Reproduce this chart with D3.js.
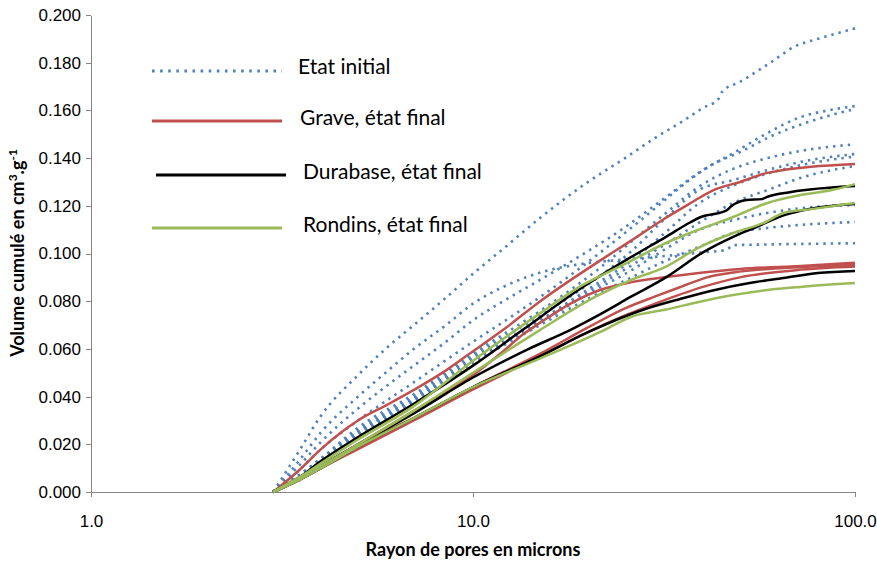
<!DOCTYPE html>
<html>
<head>
<meta charset="utf-8">
<script src="https://cdn.jsdelivr.net/npm/d3@7"></script>
<style>
  html, body { margin: 0; padding: 0; background: #fff; }
  svg { display: block; font-family: Lato, "Open Sans", sans-serif; }
  .axis path, .axis line { stroke: #868686; stroke-width: 1; shape-rendering: crispEdges; }
  .axis text { fill: #000; font-size: 17px; }
</style>
</head>
<body>
<svg id="chart" width="877" height="561"></svg>
<script>
// Cumulative pore volume (cm3/g) against pore radius (microns), one [radius, volume] list per sample.

// Etat initial
const etatInitial = [
  [[3,0],[3.5,0.017],[4,0.032],[5,0.049],[6,0.061],[7,0.070],[8.5,0.0815],[10,0.0915],[12,0.102],[15,0.115],[20,0.130],[25,0.140],[30,0.1485],[35,0.155],[40,0.161],[44,0.165],[45,0.168],[50,0.172],[60,0.180],[70,0.187],[80,0.190],[100,0.1944]],
  [[3,0],[3.5,0.013],[4,0.025],[5,0.040],[6,0.051],[7,0.060],[8.5,0.070],[10,0.079],[12,0.086],[15,0.092],[19,0.0955],[25,0.0975],[32,0.099],[40,0.1005],[46,0.1015],[48,0.1035],[60,0.1038],[100,0.1043]],
  [[3,0],[3.5,0.011],[4,0.021],[5,0.035],[6,0.045],[7,0.053],[8.5,0.063],[10,0.072],[12,0.080],[15,0.089],[20,0.101],[25,0.111],[31,0.122],[40,0.135],[48,0.1421],[59,0.1505],[72,0.1572],[85,0.160],[100,0.1618]],
  [[3,0],[3.5,0.009],[4,0.018],[5,0.030],[7,0.046],[10,0.063],[13,0.075],[17,0.088],[23,0.104],[30,0.119],[37,0.131],[42,0.137],[50,0.1425],[60,0.149],[75,0.155],[100,0.1606]],
  [[3,0],[3.5,0.007],[4,0.014],[5,0.027],[7,0.041],[10,0.058],[15,0.076],[21.5,0.094],[26,0.105],[32,0.117],[39,0.128],[48,0.1355],[59,0.140],[72,0.143],[100,0.1458]],
  [[3,0],[3.5,0.007],[4,0.014],[5,0.026],[7,0.040],[10,0.057],[15,0.074],[20,0.087],[26,0.101],[32,0.115],[39,0.1266],[48,0.1308],[59,0.135],[72,0.1384],[100,0.1417]],
  [[3,0],[3.5,0.006],[4,0.013],[5,0.025],[7,0.039],[10,0.055],[15,0.072],[20,0.085],[26,0.097],[32,0.109],[39,0.121],[48,0.1285],[59,0.1335],[72,0.137],[100,0.1407]],
  [[3,0],[3.5,0.006],[4,0.013],[5,0.025],[7,0.039],[10,0.056],[15,0.072],[20,0.084],[26,0.095],[32,0.104],[39,0.1128],[48,0.1212],[59,0.1266],[72,0.1317],[100,0.1367]],
  [[3,0],[3.5,0.006],[4,0.012],[5,0.024],[7,0.038],[10,0.055],[15,0.071],[20,0.083],[26,0.093],[32,0.102],[39,0.1099],[48,0.114],[59,0.117],[72,0.119],[100,0.1203]],
  [[3,0],[3.5,0.006],[4,0.012],[5,0.024],[7,0.038],[10,0.054],[15,0.070],[20,0.081],[26,0.090],[32,0.097],[39,0.1027],[48,0.1086],[59,0.1107],[72,0.112],[100,0.1132]]
];

// Grave, état final
const grave = [
  [[3,0],[3.5,0.009],[4,0.018],[5,0.030],[6,0.0368],[7,0.0428],[8.5,0.051],[10,0.059],[12,0.068],[15,0.080],[21.5,0.097],[26,0.1055],[32,0.115],[37,0.121],[42.5,0.1265],[50,0.130],[59,0.1338],[100,0.1375]],
  [[3,0],[3.5,0.006],[4,0.011],[5,0.020],[7,0.034],[10,0.049],[12,0.059],[13.5,0.066],[15,0.071],[18,0.079],[21.5,0.0847],[26,0.088],[32,0.0901],[39,0.0918],[50,0.0935],[72,0.0948],[100,0.0961]],
  [[3,0],[3.5,0.005],[4,0.010],[5,0.020],[7,0.031],[10,0.044],[15,0.058],[20,0.069],[25,0.077],[30,0.082],[35,0.086],[41,0.090],[48,0.092],[72,0.0943],[100,0.0952]],
  [[3,0],[3.5,0.005],[4,0.010],[5,0.018],[7,0.030],[10,0.043],[15,0.057],[20,0.067],[25,0.074],[30,0.079],[40,0.086],[50,0.090],[70,0.093],[100,0.0945]]
];

// Durabase, état final
const durabase = [
  [[3,0],[3.5,0.006],[4,0.013],[5,0.023],[7,0.037],[10,0.053],[13.5,0.068],[19,0.085],[25,0.097],[32,0.107],[37,0.113],[39.5,0.1153],[46,0.118],[47.5,0.1199],[52,0.1224],[57,0.1228],[59,0.1238],[68,0.1258],[100,0.1283]],
  [[3,0],[3.5,0.006],[4,0.011],[5,0.020],[7,0.033],[10,0.048],[14,0.060],[18,0.068],[21.5,0.0745],[26,0.082],[32,0.090],[40,0.1005],[48,0.107],[55,0.111],[65,0.116],[76,0.1187],[100,0.1208]],
  [[3,0],[3.5,0.005],[4,0.010],[5,0.019],[7,0.031],[10,0.044],[15,0.057],[20,0.067],[28,0.0765],[35,0.081],[43,0.0847],[53,0.0876],[65,0.0897],[80,0.0918],[100,0.0927]]
];

// Rondins, état final
const rondins = [
  [[3,0],[3.5,0.006],[4,0.012],[5,0.022],[7,0.036],[10,0.055],[12.7,0.067],[15,0.075],[19,0.086],[21.5,0.0905],[26,0.097],[32,0.1044],[39,0.110],[48,0.1153],[59,0.1212],[72,0.1245],[87,0.1266],[100,0.1291]],
  [[3,0],[3.5,0.006],[4,0.011],[5,0.020],[7,0.034],[10,0.050],[15,0.068],[21,0.082],[26,0.089],[32,0.0945],[39,0.1025],[48,0.1086],[58,0.113],[65,0.117],[76,0.1185],[100,0.1212]],
  [[3,0],[3.5,0.005],[4,0.010],[5,0.019],[7,0.031],[10,0.044],[15,0.056],[21.5,0.067],[26,0.0735],[32,0.0765],[39,0.0797],[48,0.0826],[59,0.0847],[72,0.086],[100,0.0876]]
];

const seriesNames = ["Etat initial", "Grave, état final", "Durabase, état final", "Rondins, état final"];
const seriesColors = ["#4F81BD", "#C0504D", "#000000", "#9BBB59"];
const xTicks = [1, 10, 100];
const yTicks = [0, 0.02, 0.04, 0.06, 0.08, 0.10, 0.12, 0.14, 0.16, 0.18, 0.20];

const groups = [etatInitial, grave, durabase, rondins];

const svg = d3.select("#chart");

const x = d3.scaleLog().domain([1, 100]).range([91, 855]);
const y = d3.scaleLinear().domain([0, 0.2]).range([492, 15]);

// Axes
svg.append("g")
  .attr("class", "axis")
  .attr("transform", "translate(91,0)")
  .call(d3.axisLeft(y).tickValues(yTicks).tickFormat(d3.format(".3f")).tickSize(5).tickSizeOuter(0).tickPadding(5));

const xAxis = svg.append("g")
  .attr("class", "axis")
  .attr("transform", "translate(0,492)")
  .call(d3.axisBottom(x).tickValues(xTicks).tickFormat(d3.format(".1f")).tickSize(5).tickSizeOuter(0));
xAxis.selectAll("text").attr("y", 29).attr("dy", "0.35em");

// Curves
const line = d3.line()
  .x(d => x(d[0]))
  .y(d => y(d[1]))
  .curve(d3.curveMonotoneX);

const plot = svg.append("g");
groups.forEach((curves, gi) => {
  plot.append("g")
    .selectAll("path")
    .data(curves)
    .join("path")
    .attr("d", line)
    .attr("fill", "none")
    .attr("stroke", seriesColors[gi])
    .attr("stroke-width", gi === 0 ? 2.6 : 2.5)
    .attr("stroke-dasharray", gi === 0 ? "2.4 5" : null)
    .attr("stroke-linejoin", "round");
});

// Legend
const legendRows = [
  { x1: 152, x2: 282, ly: 71, tx: 298, ty: 67 },
  { x1: 152, x2: 282, ly: 121, tx: 300, ty: 118 },
  { x1: 156, x2: 286, ly: 175, tx: 303, ty: 172 },
  { x1: 152, x2: 282, ly: 228, tx: 303, ty: 225 }
];
const legend = svg.append("g");
legendRows.forEach((r, i) => {
  legend.append("line")
    .attr("x1", r.x1).attr("x2", r.x2)
    .attr("y1", r.ly).attr("y2", r.ly)
    .attr("stroke", seriesColors[i])
    .attr("stroke-width", i === 0 ? 2.8 : 3.2)
    .attr("stroke-dasharray", i === 0 ? "2.6 5.5" : null);
  legend.append("text")
    .attr("x", r.tx).attr("y", r.ty)
    .attr("dy", "0.35em")
    .attr("font-size", 21)
    .attr("fill", "#000")
    .text(seriesNames[i]);
});

// Axis titles
svg.append("text")
  .attr("x", 473).attr("y", 550)
  .attr("dy", "0.35em")
  .attr("text-anchor", "middle")
  .attr("font-weight", "bold")
  .attr("font-size", 18)
  .text("Rayon de pores en microns");

const yTitle = svg.append("text")
  .attr("transform", "translate(18,253) rotate(-90)")
  .attr("dy", "0.35em")
  .attr("text-anchor", "middle")
  .attr("font-weight", "bold")
  .attr("font-size", 18);
yTitle.append("tspan").text("Volume cumulé en cm");
yTitle.append("tspan").attr("baseline-shift", "super").attr("font-size", 12).text("3");
yTitle.append("tspan").text(".g");
yTitle.append("tspan").attr("baseline-shift", "super").attr("font-size", 12).text("-1");
</script>
</body>
</html>
